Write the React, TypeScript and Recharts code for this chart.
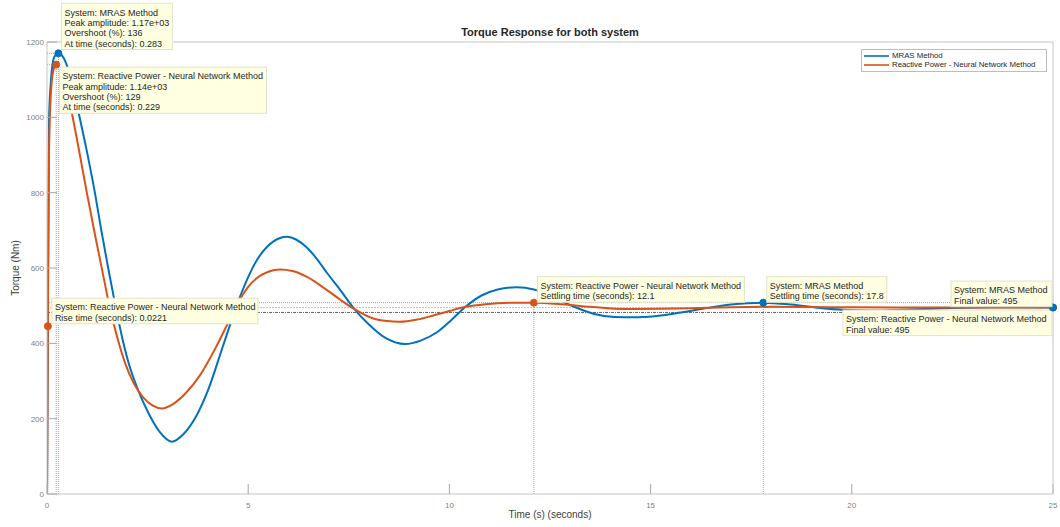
import React from "react";
import { LineChart, Line, XAxis, YAxis, ReferenceLine, ReferenceDot, Legend, Label } from "recharts";

const FONT = '"Liberation Sans", Arial, Helvetica, sans-serif';
const BLUE = "#0072BD";
const ORANGE = "#D95319";
const AXIS = "#c4c4c4";
const TICK = "#a6a6a6";

// MRAS torque response (time in s, torque in Nm)
const mrasTime = [
  0, 0.02, 0.05, 0.1, 0.18, 0.283, 0.45, 0.6, 0.79, 1.0, 1.19, 1.35, 1.52, 1.7, 1.89, 2.05, 2.23, 2.52, 2.8, 3.1,
  3.4, 3.7, 4.0, 4.38, 4.8, 5.21, 5.62, 5.96, 6.2, 6.45, 6.7, 6.95, 7.3, 7.61, 8.0, 8.4, 8.9, 9.3, 9.7, 10.05,
  10.4, 10.8, 11.2, 11.67, 12.1, 12.6, 13.1, 13.6, 14.1, 14.6, 15.1, 15.7, 16.3, 17.0, 17.8, 18.5, 19.2, 19.8,
  20.5, 21.3, 22.3, 23.5, 25,
];
const mrasTorque = [
  0, 450, 990, 1100, 1160, 1170, 1150, 1100, 1010, 905, 800, 700, 600, 500, 405, 340, 285, 215, 165, 139, 160,
  205, 275, 395, 525, 620, 670, 683, 675, 655, 625, 588, 540, 495, 450, 415, 398, 408, 430, 462, 497, 527, 543,
  549, 543, 522, 497, 478, 470, 469, 472, 481, 492, 503, 508, 503, 494, 489, 487, 489, 493, 496, 495,
];

// Reactive power - neural network torque response
const rnnTime = [
  0, 0.0221, 0.05, 0.1, 0.16, 0.229, 0.38, 0.5, 0.63, 0.8, 0.99, 1.18, 1.37, 1.56, 1.76, 1.95, 2.15, 2.4, 2.62,
  2.85, 3.15, 3.45, 3.8, 4.2, 4.55, 4.8, 5.0, 5.21, 5.5, 5.79, 6.1, 6.45, 6.95, 7.3, 7.61, 8.11, 8.45, 8.75, 9.2,
  9.6, 10.0, 10.4, 10.9, 11.5, 12.1, 12.8, 13.5, 14.1, 14.6, 15.2, 16.0, 17.0, 18.0, 19.0, 20.0, 22.0, 25,
];
const rnnTorque = [
  0, 445.5, 900, 1070, 1125, 1140, 1115, 1070, 1005, 910, 800, 695, 595, 495, 410, 345, 295, 255, 235, 227, 240,
  268, 315, 390, 465, 518, 550, 573, 590, 596, 592, 577, 542, 515, 493, 466, 459, 457, 463, 474, 486, 497, 504,
  507.5, 508, 504, 497, 492, 491, 491.5, 493, 496, 497, 496.5, 495.5, 495, 495,
];

const xTicks = [0, 5, 10, 15, 20, 25];
const yTicks = [0, 200, 400, 600, 800, 1000, 1200];

// step response characteristics: [time, torque]
const mrasPeak = [0.283, 1170];
const rnnPeak = [0.229, 1140];
const rnnRise = [0.0221, 445.5];
const rnnSettle = [12.1, 508];
const mrasSettle = [17.8, 508];
const finalValue = [25, 495];
const bandLines = [508, 495, 482];

const mrasData = mrasTime.map((t, i) => ({ t, v: mrasTorque[i] }));
const rnnData = rnnTime.map((t, i) => ({ t, v: rnnTorque[i] }));

type TipProps = { viewBox?: any; lines: string[]; dx: number; dy: number; w: number };

function Tip({ viewBox, lines, dx, dy, w }: TipProps) {
  if (!viewBox) return null;
  const cx = viewBox.x + viewBox.width / 2;
  const cy = viewBox.y + viewBox.height / 2;
  const x = cx + dx;
  const y = cy + dy;
  const h = lines.length * 10.3 + 5;
  return (
    <g>
      <rect x={x} y={y} width={w} height={h} fill="#ffffe1" stroke="#e2e2cc" strokeWidth={1} />
      {lines.map((s, i) => (
        <text key={i} x={x + 3} y={y + 12.3 + i * 10.3} fontSize={9} fill="#262626" fontFamily={FONT}>
          {s}
        </text>
      ))}
    </g>
  );
}

const tip = (lines: string[], dx: number, dy: number, w: number) => (p: any) =>
  <Tip viewBox={p.viewBox} lines={lines} dx={dx} dy={dy} w={w} />;

function LegendBox({ payload }: any) {
  return (
    <div
      style={{
        border: "1px solid #bdbdbd",
        background: "#fff",
        width: 186,
        height: 23,
        boxSizing: "border-box",
        padding: "2px 0 0 1px",
        fontFamily: FONT,
        fontSize: 7.8,
        color: "#262626",
      }}
    >
      {(payload || []).map((p: any) => (
        <div key={p.value} style={{ display: "flex", alignItems: "center", height: 8.6, whiteSpace: "nowrap" }}>
          <svg width={29} height={4} style={{ flex: "none" }}>
            <line x1={1} x2={26} y1={2} y2={2} stroke={p.color} strokeWidth={1.6} />
          </svg>
          <span style={{ lineHeight: "8.6px" }}>{p.value}</span>
        </div>
      ))}
    </div>
  );
}

const dotted = { stroke: "#8c8c8c", strokeWidth: 0.8, strokeDasharray: "1 1" };

export default function App() {
  return (
    <div style={{ position: "absolute", left: 0, top: 0, width: 1060, height: 527, background: "#fff", fontFamily: FONT }}>
      <LineChart width={1060} height={527} margin={{ top: 41, right: 6, bottom: 8, left: 7 }}>
        <XAxis
          type="number"
          dataKey="t"
          domain={[0, 25]}
          ticks={xTicks}
          interval={0}
          allowDataOverflow
          height={25}
          tickSize={-10}
          tickMargin={18}
          axisLine={{ stroke: AXIS }}
          tickLine={{ stroke: TICK }}
          tick={{ fill: "#7f7f7f", fontSize: 8, fontFamily: FONT }}
        >
          <Label value="Time (s) (seconds)" position="insideBottom" offset={1} fill="#404040" fontSize={10} fontFamily={FONT} />
        </XAxis>
        <XAxis
          xAxisId="top"
          type="number"
          orientation="top"
          domain={[0, 25]}
          ticks={xTicks}
          interval={0}
          height={1}
          tick={false}
          tickSize={-10}
          axisLine={{ stroke: AXIS }}
          tickLine={{ stroke: TICK }}
        >
          <Label value="Torque Response for both system" position="top" offset={5} fill="#262626" fontSize={11} fontWeight="bold" fontFamily={FONT} />
        </XAxis>
        <YAxis
          type="number"
          domain={[0, 1200]}
          ticks={yTicks}
          interval={0}
          allowDataOverflow
          width={40}
          tickSize={-10}
          tickMargin={13}
          axisLine={{ stroke: AXIS }}
          tickLine={{ stroke: TICK }}
          tick={{ fill: "#7f7f7f", fontSize: 8, fontFamily: FONT }}
        >
          <Label
            value="Torque (Nm)"
            angle={-90}
            position="insideLeft"
            offset={8}
            fill="#404040"
            fontSize={10}
            fontFamily={FONT}
            style={{ textAnchor: "middle" }}
          />
        </YAxis>
        <YAxis
          yAxisId="right"
          type="number"
          orientation="right"
          domain={[0, 1200]}
          ticks={yTicks}
          interval={0}
          width={1}
          tick={false}
          tickSize={-10}
          axisLine={{ stroke: AXIS }}
          tickLine={{ stroke: TICK }}
        />

        {/* settling band and final value */}
        <ReferenceLine y={bandLines[0]} {...dotted} />
        <ReferenceLine y={bandLines[1]} stroke="#b0b0b0" strokeWidth={0.8} strokeDasharray="2 1" />
        <ReferenceLine y={bandLines[2]} stroke="#3a3a3a" strokeWidth={0.8} strokeDasharray="3 1 1 1" />

        {/* marker guide lines */}
        {[mrasPeak, rnnPeak, rnnRise, rnnSettle, mrasSettle].map(([t, v], i) => (
          <ReferenceLine key={`v${i}`} segment={[{ x: t, y: 0 }, { x: t, y: v }]} {...dotted} />
        ))}
        {[mrasPeak, rnnPeak, rnnRise].map(([t, v], i) => (
          <ReferenceLine key={`h${i}`} segment={[{ x: 0, y: v }, { x: t, y: v }]} {...dotted} />
        ))}

        <Line
          data={mrasData}
          dataKey="v"
          name="MRAS Method"
          type="monotoneX"
          stroke={BLUE}
          strokeWidth={2}
          dot={false}
          isAnimationActive={false}
        />
        <Line
          data={rnnData}
          dataKey="v"
          name="Reactive Power - Neural Network Method"
          type="monotoneX"
          stroke={ORANGE}
          strokeWidth={2}
          dot={false}
          isAnimationActive={false}
        />

        <ReferenceDot
          x={rnnRise[0]}
          y={rnnRise[1]}
          r={3.5}
          fill={ORANGE}
          stroke={ORANGE}
          label={tip(["System: Reactive Power - Neural Network Method", "Rise time (seconds): 0.0221"], 4, -28, 206)}
        />
        <ReferenceDot
          x={rnnSettle[0]}
          y={rnnSettle[1]}
          r={3.5}
          fill={ORANGE}
          stroke={ORANGE}
          label={tip(["System: Reactive Power - Neural Network Method", "Settling time (seconds): 12.1"], 3.5, -26, 207)}
        />
        <ReferenceDot
          x={mrasSettle[0]}
          y={mrasSettle[1]}
          r={3.5}
          fill={BLUE}
          stroke={BLUE}
          label={tip(["System: MRAS Method", "Settling time (seconds): 17.8"], 3.5, -26, 120)}
        />
        <ReferenceDot
          x={finalValue[0]}
          y={finalValue[1]}
          r={3.5}
          fill={ORANGE}
          stroke={ORANGE}
          label={tip(["System: Reactive Power - Neural Network Method", "Final value: 495"], -210, 2.5, 209)}
        />
        <ReferenceDot
          x={finalValue[0]}
          y={finalValue[1]}
          r={3.5}
          fill={BLUE}
          stroke={BLUE}
          label={tip(["System: MRAS Method", "Final value: 495"], -102, -26.5, 101)}
        />
        <ReferenceDot
          x={mrasPeak[0]}
          y={mrasPeak[1]}
          r={3.5}
          fill={BLUE}
          stroke={BLUE}
          label={tip(
            ["System: MRAS Method", "Peak amplitude: 1.17e+03", "Overshoot (%): 136", "At time (seconds): 0.283"],
            3,
            -50,
            111
          )}
        />
        <ReferenceDot
          x={rnnPeak[0]}
          y={rnnPeak[1]}
          r={3.5}
          fill={ORANGE}
          stroke={ORANGE}
          label={tip(
            [
              "System: Reactive Power - Neural Network Method",
              "Peak amplitude: 1.14e+03",
              "Overshoot (%): 129",
              "At time (seconds): 0.229",
            ],
            3.3,
            2.5,
            207
          )}
        />

        <Legend
          layout="vertical"
          align="center"
          verticalAlign="middle"
          content={<LegendBox />}
          wrapperStyle={{ left: 861, top: 49, width: 186, height: 23 }}
        />
      </LineChart>
    </div>
  );
}
